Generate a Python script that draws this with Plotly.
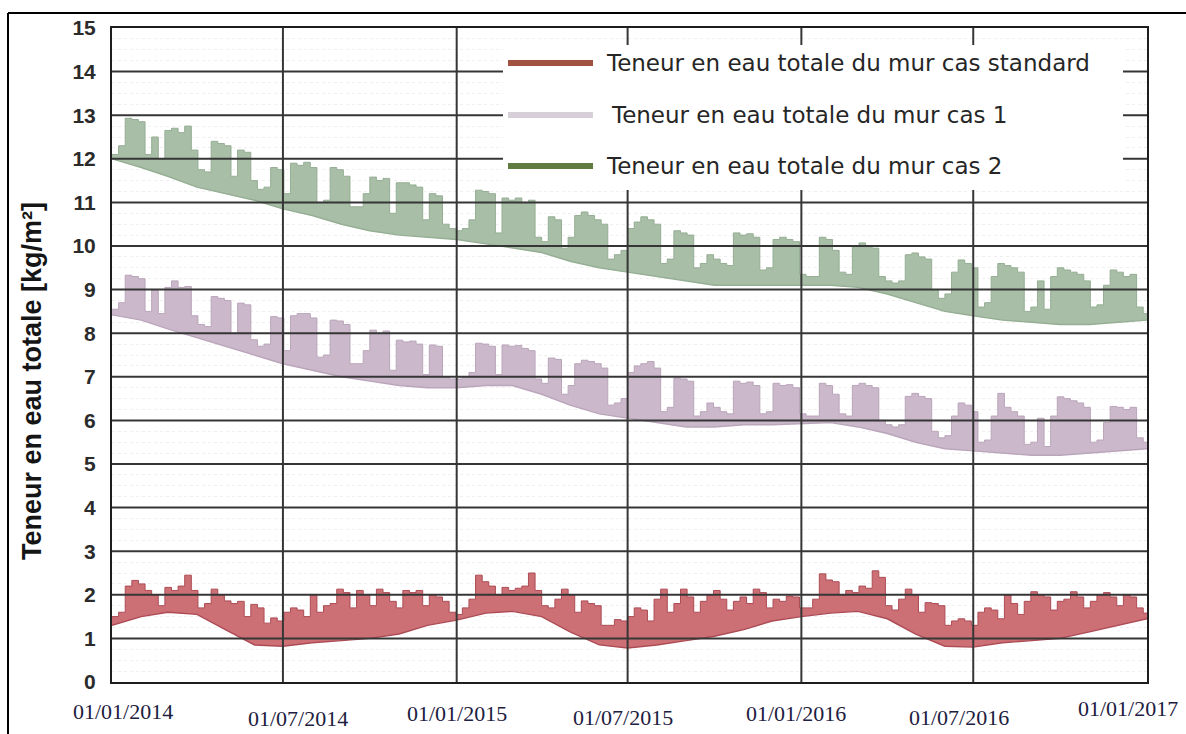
import pandas as pd
import plotly.graph_objects as go

# ---------------------------------------------------------------- data
# Lower edge of each band, read on the 1st of every month (Jan 2014 .. Jan 2017)
month_dates = pd.date_range("2014-01-01", "2017-01-01", freq="MS")

std_low = [1.3, 1.5, 1.6, 1.55, 1.2, 0.85, 0.82, 0.9, 0.95, 1.0, 1.1, 1.3,
           1.42, 1.58, 1.62, 1.5, 1.15, 0.85, 0.78, 0.85, 0.95, 1.05, 1.2, 1.4,
           1.5, 1.58, 1.62, 1.45, 1.1, 0.82, 0.8, 0.9, 0.95, 1.0, 1.15, 1.3,
           1.45]
cas1_low = [8.42, 8.3, 8.1, 7.9, 7.7, 7.5, 7.3, 7.15, 7.0, 6.9, 6.8, 6.75,
            6.75, 6.8, 6.8, 6.6, 6.35, 6.15, 6.05, 5.95, 5.85, 5.85, 5.9, 5.9,
            5.93, 5.95, 5.85, 5.7, 5.5, 5.35, 5.3, 5.25, 5.2, 5.2, 5.25, 5.3,
            5.35]
cas2_low = [12.0, 11.8, 11.6, 11.35, 11.2, 11.05, 10.85, 10.7, 10.5, 10.35, 10.25, 10.2,
            10.15, 10.05, 9.95, 9.85, 9.65, 9.5, 9.4, 9.3, 9.2, 9.1, 9.1, 9.1,
            9.1, 9.1, 9.05, 8.9, 8.7, 8.5, 8.4, 8.3, 8.25, 8.2, 8.2, 8.25,
            8.3]

# Weekly upper edge (peaks) of each band, from 1 Jan 2014
std_high = [1.5, 1.6, 2.2, 2.33, 2.25, 2.1, 2.0, 1.75, 2.17, 2.1,
            2.2, 2.45, 2.1, 1.7, 1.8, 2.13, 2.0, 1.86, 1.8, 1.85,
            1.5, 1.78, 1.7, 1.35, 1.47, 1.4, 1.6, 1.7, 1.65, 1.5,
            2.0, 1.6, 1.75, 1.8, 2.13, 2.05, 1.7, 2.1, 2.0, 1.75,
            2.13, 2.05, 1.85, 1.7, 2.1, 2.05, 2.1, 1.75, 2.0, 1.95,
            1.85, 1.6, 1.55, 1.7, 1.9, 2.45, 2.3, 2.2, 2.0, 2.17,
            2.1, 2.15, 2.2, 2.5, 2.1, 1.75, 1.7, 1.9, 2.13, 2.0,
            1.6, 1.86, 1.8, 1.75, 1.3, 1.3, 1.43, 1.4, 1.5, 1.7,
            1.65, 1.4, 1.9, 2.13, 1.6, 1.8, 2.13, 1.95, 1.6, 1.85,
            2.0, 2.1, 1.9, 1.65, 1.85, 1.95, 1.8, 2.13, 2.05, 1.7,
            1.9, 1.85, 1.97, 1.95, 1.7, 1.7, 1.9, 2.48, 2.34, 2.3,
            2.0, 2.1, 2.05, 2.2, 2.15, 2.55, 2.4, 1.75, 1.65, 1.9,
            2.13, 2.0, 1.6, 1.82, 1.8, 1.75, 1.3, 1.4, 1.45, 1.4,
            1.3, 1.6, 1.7, 1.65, 1.45, 2.0, 1.8, 1.55, 1.85, 2.07,
            2.0, 1.95, 1.65, 1.85, 1.9, 2.07, 1.95, 1.7, 1.85, 2.0,
            2.05, 1.95, 1.75, 2.0, 1.95, 1.7, 1.58]
cas1_high = [8.55, 8.7, 9.33, 9.3, 9.25, 8.5, 8.99, 8.45, 9.05, 9.2,
             9.05, 9.07, 8.4, 8.2, 8.15, 8.84, 8.8, 8.75, 8.0, 8.69,
             8.65, 7.85, 7.7, 7.75, 8.38, 8.35, 7.6, 8.4, 8.45, 8.45,
             8.35, 7.45, 7.5, 8.3, 8.28, 8.2, 7.3, 7.3, 7.6, 8.07,
             8.0, 8.05, 7.15, 7.84, 7.8, 7.82, 7.75, 7.05, 7.73, 7.7,
             7.0, 6.95, 6.95, 7.0, 7.1, 7.77, 7.75, 7.7, 7.05, 7.73,
             7.7, 7.72, 7.65, 7.6, 6.95, 6.85, 7.43, 7.4, 6.6, 6.8,
             7.3, 7.38, 7.35, 7.3, 7.2, 6.35, 6.4, 6.5, 7.1, 7.25,
             7.3, 7.35, 7.2, 6.2, 6.3, 6.97, 6.95, 6.9, 6.1, 6.2,
             6.4, 6.3, 6.2, 6.15, 6.9, 6.85, 6.88, 6.8, 6.15, 6.2,
             6.85, 6.8, 6.82, 6.75, 6.15, 6.1, 6.1, 6.85, 6.8, 6.6,
             6.15, 6.1, 6.8, 6.85, 6.8, 6.75, 6.0, 5.9, 5.85, 5.9,
             6.55, 6.62, 6.55, 6.5, 5.75, 5.6, 5.65, 6.1, 6.4, 6.35,
             6.2, 5.5, 5.55, 6.1, 6.62, 6.3, 6.2, 6.1, 5.45, 5.5,
             6.05, 5.4, 6.1, 6.54, 6.5, 6.45, 6.4, 6.3, 5.5, 5.55,
             5.95, 6.32, 6.3, 6.25, 6.3, 5.6, 5.5]
cas2_high = [12.1, 12.3, 12.93, 12.9, 12.85, 12.1, 12.5, 12.0, 12.65, 12.7,
             12.6, 12.75, 12.2, 11.75, 11.7, 12.4, 12.35, 12.3, 11.6, 12.2,
             12.15, 11.5, 11.3, 11.35, 11.8, 11.75, 11.2, 11.9, 11.85, 11.92,
             11.8, 11.0, 11.05, 11.8, 11.75, 11.6, 10.9, 10.9, 11.2, 11.58,
             11.5, 11.55, 10.75, 11.45, 11.45, 11.4, 11.35, 10.6, 11.2, 11.15,
             10.5, 10.4, 10.35, 10.4, 10.6, 11.28, 11.25, 11.2, 10.3, 11.1,
             11.05, 11.1, 11.0, 11.05, 10.2, 10.1, 10.67, 10.6, 9.95, 10.2,
             10.7, 10.78, 10.7, 10.6, 10.5, 9.7, 9.8, 9.9, 10.4, 10.55,
             10.67, 10.6, 10.5, 9.6, 9.7, 10.35, 10.3, 10.25, 9.5, 9.6,
             9.8, 9.7, 9.6, 9.55, 10.3, 10.25, 10.28, 10.2, 9.45, 9.5,
             10.15, 10.2, 10.15, 10.1, 9.35, 9.3, 9.3, 10.2, 10.15, 9.9,
             9.4, 9.35, 10.0, 10.07, 10.0, 9.95, 9.3, 9.2, 9.15, 9.2,
             9.8, 9.84, 9.75, 9.7, 9.0, 8.8, 8.9, 9.4, 9.68, 9.6,
             9.5, 8.6, 8.7, 9.3, 9.6, 9.55, 9.5, 9.4, 8.5, 8.6,
             9.2, 8.55, 9.3, 9.5, 9.45, 9.4, 9.35, 9.2, 8.6, 8.65,
             9.1, 9.45, 9.4, 9.3, 9.35, 8.6, 8.45]

series_names = ["Teneur en eau totale du mur cas standard",
                "Teneur en eau totale du mur cas 1",
                "Teneur en eau totale du mur cas 2"]

tick_dates = ["2014-01-01", "2014-07-01", "2015-01-01", "2015-07-01",
              "2016-01-01", "2016-07-01", "2017-01-01"]
tick_texts = ["01/01/2014", "01/07/2014", "01/01/2015", "01/07/2015",
              "01/01/2016", "01/07/2016", "01/01/2017"]
y_ticks = list(range(0, 16))

# ---------------------------------------------------------------- styling
W, H = 1186, 734
ML, MR, MT, MB = 112, 39, 28, 52
PW, PH = W - ML - MR, H - MT - MB


def px_x(p):
    return (p - ML) / PW


def px_y(p):
    return (H - MB - p) / PH


band_fill = ["#cc7076", "#cbb9cb", "#a8bea6"]
band_line = ["#ad4b55", "#baa5ba", "#95ae94"]
legend_line = ["#a0513f", "#d8d0d8", "#5f7b40"]
legend_row_px = [63, 115, 166]
legend_text_dx = [0, 5, 0]
tick_dx = [11, 15, 0, -5, -5, -14, -19]
tick_dy = [-29, -36, -31, -35, -31, -35, -26]
grid_color = "#363636"

week_dates = pd.date_range("2014-01-01", periods=len(std_high), freq="7D")
end_date = pd.Timestamp("2017-01-01")

fig = go.Figure()
for i, (low, high) in enumerate([(std_low, std_high),
                                 (cas1_low, cas1_high),
                                 (cas2_low, cas2_high)]):
    fig.add_trace(go.Scatter(
        x=month_dates, y=low, mode="lines",
        line=dict(color=band_line[i], width=1.4),
        showlegend=False, hoverinfo="skip"))
    fig.add_trace(go.Scatter(
        x=list(week_dates) + [end_date], y=high + [high[-1]],
        mode="lines", line=dict(color=band_line[i], width=1, shape="hv"),
        fill="tonexty", fillcolor=band_fill[i],
        name=series_names[i], showlegend=False))

shapes = []
# major grid drawn over the bands
for v in y_ticks[1:-1]:
    shapes.append(dict(type="line", xref="paper", yref="y", x0=0, x1=1,
                       y0=v, y1=v, line=dict(color=grid_color, width=2),
                       layer="above"))
for d in tick_dates[1:-1]:
    shapes.append(dict(type="line", xref="x", yref="paper", x0=d, x1=d,
                       y0=0, y1=1, line=dict(color=grid_color, width=2),
                       layer="above"))

# legend panel
shapes.append(dict(type="rect", xref="paper", yref="paper",
                   x0=px_x(503), x1=px_x(1123), y0=px_y(190), y1=px_y(45),
                   fillcolor="white", line=dict(width=0), layer="above"))
annotations = []
for i in range(3):
    yy = px_y(legend_row_px[i])
    shapes.append(dict(type="line", xref="paper", yref="paper",
                       x0=px_x(508), x1=px_x(593), y0=yy, y1=yy,
                       line=dict(color=legend_line[i], width=6),
                       layer="above"))
    annotations.append(dict(x=px_x(604 + legend_text_dx[i]), y=yy,
                            xref="paper", yref="paper", xanchor="left",
                            yanchor="middle", showarrow=False,
                            text=series_names[i],
                            font=dict(family="DejaVu Sans", size=23,
                                      color="#262626")))

# outer frame (top and left edges)
shapes.append(dict(type="line", xref="paper", yref="paper",
                   x0=px_x(8), x1=px_x(1190), y0=px_y(13), y1=px_y(13),
                   line=dict(color="black", width=2), layer="above"))
shapes.append(dict(type="line", xref="paper", yref="paper",
                   x0=px_x(8), x1=px_x(8), y0=px_y(13), y1=px_y(740),
                   line=dict(color="black", width=2), layer="above"))

# date labels
for d, t, dx, dy in zip(tick_dates, tick_texts, tick_dx, tick_dy):
    annotations.append(dict(x=d, y=0, xref="x", yref="paper",
                            xanchor="center", yanchor="middle",
                            xshift=dx, yshift=dy, showarrow=False, text=t,
                            font=dict(family="Liberation Serif", size=22,
                                      color="#1d2040")))

# y-axis title
annotations.append(dict(x=px_x(32), y=px_y(381), xref="paper", yref="paper",
                        xanchor="center", yanchor="middle", showarrow=False,
                        textangle=-90,
                        text="Teneur en eau totale [kg/m²]",
                        font=dict(family="Liberation Sans", size=27,
                                  color="#151515", weight="bold")))

fig.update_layout(
    width=W, height=H,
    margin=dict(l=ML, r=MR, t=MT, b=MB, pad=0),
    paper_bgcolor="white", plot_bgcolor="white",
    showlegend=False,
    shapes=shapes, annotations=annotations,
    xaxis=dict(type="date", range=[tick_dates[0], tick_dates[-1]],
               tickvals=tick_dates, showticklabels=False, ticks="",
               showgrid=False, zeroline=False,
               showline=True, linecolor="#1e1e1e", linewidth=2, mirror=True,
               layer="above traces"),
    yaxis=dict(range=[0, 15], tickvals=y_ticks, ticks="",
               ticklabelstandoff=10,
               tickfont=dict(family="Liberation Sans", size=21,
                             color="#2b2b2b", weight="bold"),
               showgrid=False, zeroline=False,
               minor=dict(dtick=0.25, showgrid=True, gridcolor="#efefef",
                          griddash="dot", gridwidth=1),
               showline=True, linecolor="#1e1e1e", linewidth=2, mirror=True,
               layer="above traces"),
)

fig.write_html("out.html")
